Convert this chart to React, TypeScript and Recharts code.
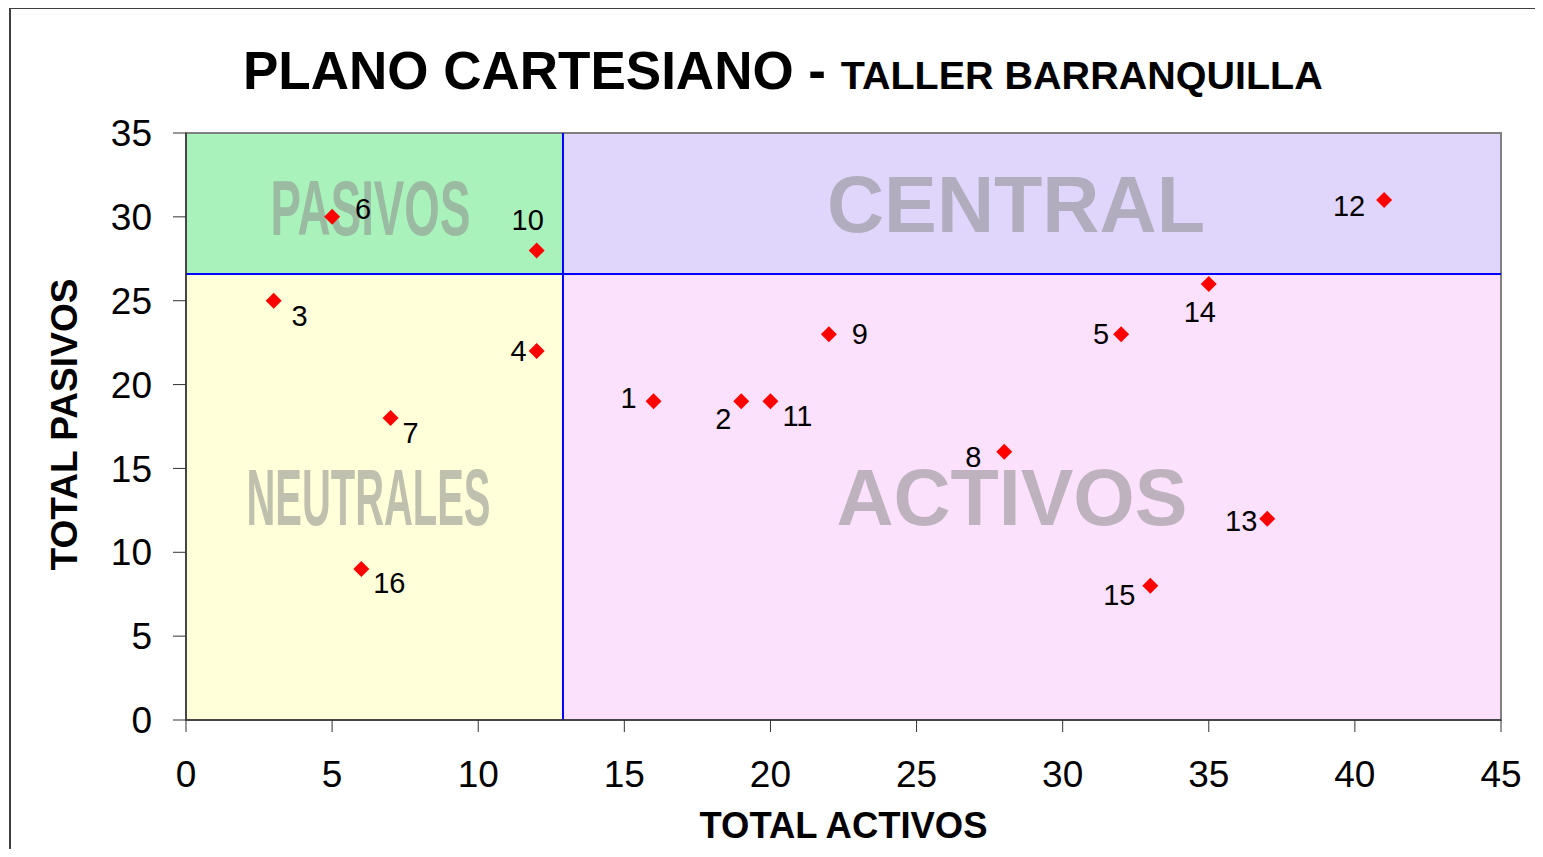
import React from "react";
import {
  ScatterChart,
  Scatter,
  XAxis,
  YAxis,
  ReferenceArea,
  ReferenceLine,
} from "recharts";

// values
const ids = [1, 2, 3, 4, 5, 6, 7, 8, 9, 10, 11, 12, 13, 14, 15, 16];
const activos = [16, 19, 3, 12, 32, 5, 7, 28, 22, 12, 20, 41, 37, 35, 33, 6];
const pasivos = [19, 19, 25, 22, 23, 30, 18, 16, 23, 28, 19, 31, 12, 26, 8, 9];
const xTicks = [0, 5, 10, 15, 20, 25, 30, 35, 40, 45];
const yTicks = [0, 5, 10, 15, 20, 25, 30, 35];
const corteActivos = 12.9;
const cortePasivos = 26.6;

const points = ids.map((id, i) => ({ id, activos: activos[i], pasivos: pasivos[i] }));

const FONT = '"Liberation Sans", Arial, Helvetica, sans-serif';
const NARROW = '"Liberation Sans Narrow", "Arial Narrow", ' + FONT;

// where each point's number sits relative to its marker
const labelOffsets: Record<number, [number, number]> = {
  1: [-25, -3],
  2: [-18, 18],
  3: [26, 15],
  4: [-18, 0],
  5: [-20, 0],
  6: [31, -8],
  7: [20, 15],
  8: [-31, 5],
  9: [31, 0],
  10: [-9, -30],
  11: [27, 15],
  12: [-35, 6],
  13: [-26, 2],
  14: [-9, 28],
  15: [-31, 9],
  16: [28, 14],
};

const Diamond = (props: any) => {
  const { cx, cy, payload } = props;
  if (cx == null || cy == null) return null;
  const [dx, dy] = labelOffsets[payload.id] || [20, 0];
  const r = 8;
  return (
    <g>
      <polygon
        points={`${cx},${cy - r} ${cx + r},${cy} ${cx},${cy + r} ${cx - r},${cy}`}
        fill="#ff0000"
      />
      <text
        x={cx + dx}
        y={cy + dy}
        textAnchor="middle"
        dominantBaseline="central"
        fontSize={29}
        fontFamily={FONT}
        fill="#000"
      >
        {payload.id}
      </text>
    </g>
  );
};

const Watermark = (props: any) => {
  const { viewBox, text, len, size, dx = 0, dy = 0, narrow } = props;
  if (!viewBox) return null;
  const cx = viewBox.x + viewBox.width / 2 + dx;
  const cy = viewBox.y + viewBox.height / 2 + dy;
  return (
    <text
      x={cx}
      y={cy + size * 0.36}
      textAnchor="middle"
      fontSize={size}
      fontWeight="bold"
      fontFamily={narrow ? NARROW : FONT}
      fill="#8c8c8c"
      fillOpacity={0.55}
      textLength={len}
      lengthAdjust="spacingAndGlyphs"
    >
      {text}
    </text>
  );
};

const YTitle = (props: any) => {
  const { viewBox } = props;
  if (!viewBox) return null;
  const x = 77;
  const y = viewBox.y + viewBox.height / 2 - 2;
  return (
    <text
      x={x}
      y={y}
      transform={`rotate(-90, ${x}, ${y})`}
      textAnchor="middle"
      fontSize={36}
      fontWeight="bold"
      fontFamily={FONT}
      fill="#000"
      textLength={292}
      lengthAdjust="spacingAndGlyphs"
    >
      TOTAL PASIVOS
    </text>
  );
};

const XTitle = (props: any) => {
  const { viewBox } = props;
  if (!viewBox) return null;
  return (
    <text
      x={viewBox.x + viewBox.width / 2}
      y={838}
      textAnchor="middle"
      fontSize={36}
      fontWeight="bold"
      fontFamily={FONT}
      fill="#000"
      textLength={288}
      lengthAdjust="spacingAndGlyphs"
    >
      TOTAL ACTIVOS
    </text>
  );
};

export default function App() {
  const tick = { fill: "#000", fontSize: 37, fontFamily: FONT };
  return (
    <div
      style={{
        position: "relative",
        width: 1543,
        height: 857,
        margin: -8,
        overflow: "hidden",
        background: "#fff",
      }}
    >
      <div
        style={{
          position: "absolute",
          left: 9,
          top: 7,
          width: 1529,
          height: 900,
          border: "2px solid #404040",
        }}
      />
      <div style={{ position: "absolute", left: 0, top: 0 }}>
        <ScatterChart
          width={1543}
          height={857}
          margin={{ top: 133, right: 42, bottom: 0, left: 0 }}
        >
          <XAxis
            type="number"
            dataKey="activos"
            domain={[0, 45]}
            ticks={xTicks}
            height={137}
            tick={tick}
            tickSize={12}
            tickMargin={29}
            tickLine={{ stroke: "#333" }}
            axisLine={{ stroke: "#333", strokeWidth: 1.5 }}
            label={<XTitle />}
          />
          <YAxis
            type="number"
            dataKey="pasivos"
            domain={[0, 35]}
            ticks={yTicks}
            width={186}
            tick={tick}
            tickSize={13}
            tickMargin={21}
            tickLine={{ stroke: "#333" }}
            axisLine={{ stroke: "#333", strokeWidth: 1.5 }}
            label={<YTitle />}
          />
          <ReferenceArea
            x1={0}
            x2={corteActivos}
            y1={cortePasivos}
            y2={35}
            fill="#aaf2bb"
            fillOpacity={1}
            label={<Watermark text="PASIVOS" len={200} size={77} dx={-4} dy={4} narrow />}
          />
          <ReferenceArea
            x1={corteActivos}
            x2={45}
            y1={cortePasivos}
            y2={35}
            fill="#e0d6fb"
            fillOpacity={1}
            label={<Watermark text="CENTRAL" len={378} size={80} dx={-16} />}
          />
          <ReferenceArea
            x1={0}
            x2={corteActivos}
            y1={0}
            y2={cortePasivos}
            fill="#ffffd9"
            fillOpacity={1}
            label={<Watermark text="NEUTRALES" len={244} size={79} dx={-6} narrow />}
          />
          <ReferenceArea
            x1={corteActivos}
            x2={45}
            y1={0}
            y2={cortePasivos}
            fill="#fce1fc"
            fillOpacity={1}
            label={<Watermark text="ACTIVOS" len={351} size={79} dx={-20} />}
          />
          <ReferenceArea
            x1={0}
            x2={45}
            y1={0}
            y2={35}
            fill="none"
            stroke="#808080"
            strokeWidth={2}
          />
          <ReferenceLine x={corteActivos} stroke="#0000ff" strokeWidth={2} />
          <ReferenceLine y={cortePasivos} stroke="#0000ff" strokeWidth={2} />
          <Scatter
            data={points}
            dataKey="pasivos"
            shape={<Diamond />}
            isAnimationActive={false}
          />
        </ScatterChart>
      </div>
      <svg
        width={1543}
        height={120}
        style={{ position: "absolute", left: 0, top: 0, pointerEvents: "none" }}
      >
        <text x={243} y={89} fontFamily={FONT} fontWeight="bold" fill="#000">
          <tspan fontSize={53}>PLANO CARTESIANO - </tspan>
          <tspan fontSize={39.5}>TALLER BARRANQUILLA</tspan>
        </text>
      </svg>
    </div>
  );
}
